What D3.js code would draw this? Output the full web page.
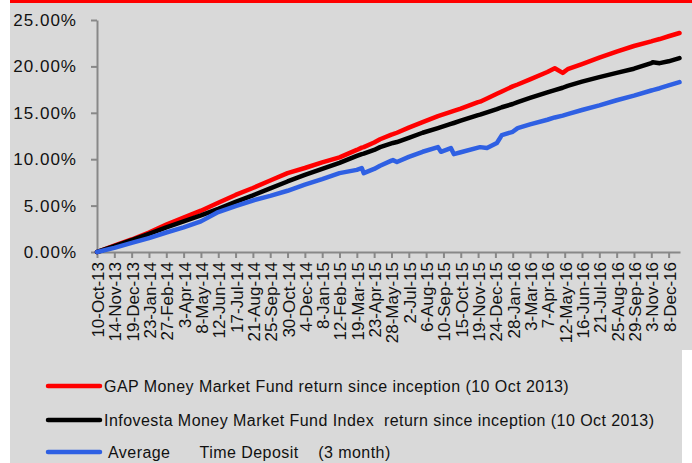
<!DOCTYPE html>
<html>
<head>
<meta charset="utf-8">
<title>Money market fund returns</title>
<script src="https://cdn.jsdelivr.net/npm/d3@7"></script>
<style>
  body { margin: 0; background: #fff; }
  text { font-family: "Liberation Sans", Arial, sans-serif; fill: #111; }
</style>
</head>
<body>
<script>
const dates = [
  "2013-10-10","2013-11-14","2013-12-19","2014-01-23","2014-02-27","2014-04-03",
  "2014-05-08","2014-06-12","2014-07-17","2014-08-21","2014-09-25","2014-10-30",
  "2014-12-04","2015-01-08","2015-02-12","2015-03-19","2015-03-29","2015-04-02",
  "2015-04-23","2015-05-05","2015-05-28","2015-05-31","2015-06-08","2015-07-02",
  "2015-07-30","2015-08-30","2015-09-05","2015-09-25","2015-10-01","2015-10-15",
  "2015-11-19","2015-11-23","2015-12-07","2015-12-27","2016-01-06","2016-01-28",
  "2016-02-07","2016-03-03","2016-04-07","2016-04-22","2016-05-08","2016-05-18",
  "2016-06-16","2016-07-21","2016-08-25","2016-09-29","2016-11-03","2016-11-06",
  "2016-11-20","2016-12-08","2016-12-30"
];

// return since inception, in %
const gapFund = [
  0.00, 0.70, 1.35, 2.10, 2.95, 3.70, 4.45, 5.30, 6.15, 6.90, 7.70, 8.50,
  9.05, 9.65, 10.20, 11.00, 11.25, 11.30, 11.80, 12.15, 12.65, 12.70, 12.85, 13.40,
  14.00, 14.65, 14.75, 15.10, 15.20, 15.45, 16.15, 16.20, 16.55, 17.05, 17.30, 17.85,
  18.05, 18.60, 19.40, 19.80, 19.30, 19.70, 20.25, 20.95, 21.60, 22.20, 22.70, 22.75,
  22.95, 23.25, 23.60
];
const infovesta = [
  0.00, 0.62, 1.28, 1.95, 2.65, 3.30, 3.95, 4.65, 5.40, 6.10, 6.85, 7.60,
  8.30, 8.95, 9.60, 10.35, 10.55, 10.60, 11.00, 11.30, 11.70, 11.75, 11.85, 12.30,
  12.85, 13.35, 13.45, 13.80, 13.90, 14.15, 14.75, 14.80, 15.05, 15.40, 15.60, 15.95,
  16.15, 16.60, 17.20, 17.45, 17.70, 17.90, 18.35, 18.85, 19.30, 19.75, 20.35, 20.45,
  20.35, 20.55, 20.90
];
const timeDeposit = [
  0.00, 0.45, 0.98, 1.50, 2.10, 2.65, 3.30, 4.30, 4.95, 5.55, 6.05, 6.60,
  7.25, 7.85, 8.50, 8.85, 9.05, 8.50, 8.95, 9.30, 9.85, 9.90, 9.70, 10.25,
  10.80, 11.30, 10.80, 11.20, 10.55, 10.75, 11.25, 11.30, 11.20, 11.75, 12.60, 12.95,
  13.35, 13.75, 14.25, 14.50, 14.70, 14.85, 15.30, 15.80, 16.35, 16.85, 17.40, 17.45,
  17.65, 17.95, 18.30
];

// x axis labels, every 35 days
const tickLabels = [
  "2013-10-10","2013-11-14","2013-12-19","2014-01-23","2014-02-27","2014-04-03",
  "2014-05-08","2014-06-12","2014-07-17","2014-08-21","2014-09-25","2014-10-30",
  "2014-12-04","2015-01-08","2015-02-12","2015-03-19","2015-04-23","2015-05-28",
  "2015-07-02","2015-08-06","2015-09-10","2015-10-15","2015-11-19","2015-12-24",
  "2016-01-28","2016-03-03","2016-04-07","2016-05-12","2016-06-16","2016-07-21",
  "2016-08-25","2016-09-29","2016-11-03","2016-12-08"
];
const yTicks = [0, 5, 10, 15, 20, 25];

const seriesNames = [
  "GAP Money Market Fund return since inception (10 Oct 2013)",
  "Infovesta Money Market Fund Index  return since inception (10 Oct 2013)",
  " Average      Time Deposit    (3 month)"
];
const seriesColors = ["#ff0000", "#000000", "#2f60e3"];

const w = 692, h = 463;
const parse = d3.timeParse("%Y-%m-%d");

const svg = d3.select("body").append("svg")
  .attr("width", w)
  .attr("height", h);

// backgrounds
svg.append("rect").attr("x", 10).attr("y", 0).attr("width", 682).attr("height", 350).attr("fill", "#d9d9d9");
svg.append("rect").attr("x", 10).attr("y", 350).attr("width", 672).attr("height", 113).attr("fill", "#d9d9d9");
svg.append("rect").attr("x", 10).attr("y", 0).attr("width", 682).attr("height", 3).attr("fill", "#ff0000");

const x = d3.scaleTime()
  .domain([parse("2013-10-10"), parse("2016-12-31")])
  .range([97, 680]);
const y = d3.scaleLinear()
  .domain([0, 25])
  .range([252, 20]);

// y axis
const yAxis = svg.append("g")
  .attr("transform", "translate(97,0)")
  .call(d3.axisLeft(y).tickValues(yTicks).tickSize(6).tickSizeOuter(0).tickPadding(14)
    .tickFormat(d => d.toFixed(2) + "%"));
yAxis.selectAll("text").style("font-size", "17px").style("letter-spacing", "1px");

// x axis
const xAxis = svg.append("g")
  .attr("transform", "translate(0,252)")
  .call(d3.axisBottom(x).tickValues(tickLabels.map(parse)).tickSize(6).tickSizeOuter(0)
    .tickFormat(d3.timeFormat("%-d-%b-%y")));
xAxis.selectAll("text")
  .style("font-size", "17px")
  .attr("text-anchor", "end")
  .attr("transform", "rotate(-90)")
  .attr("x", -10)
  .attr("y", 0)
  .attr("dy", "0.38em");

svg.selectAll(".domain, .tick line")
  .attr("stroke", "#888")
  .attr("stroke-width", 2);
svg.selectAll(".tick text").attr("fill", "#111");

// lines
const allSeries = [gapFund, infovesta, timeDeposit];
const line = d3.line()
  .x((d, i) => x(parse(dates[i])))
  .y(d => y(d));

svg.selectAll("path.series")
  .data(allSeries)
  .enter()
  .append("path")
  .attr("class", "series")
  .attr("d", line)
  .attr("fill", "none")
  .attr("stroke", (d, i) => seriesColors[i])
  .attr("stroke-width", 4.5)
  .attr("stroke-linejoin", "round")
  .attr("stroke-linecap", "round");

// legend
const legendY = [386, 420, 452];
const legend = svg.selectAll("g.legend")
  .data(seriesNames)
  .enter()
  .append("g")
  .attr("class", "legend")
  .attr("transform", (d, i) => "translate(0," + legendY[i] + ")");
legend.append("line")
  .attr("x1", 48).attr("x2", 100)
  .attr("stroke", (d, i) => seriesColors[i])
  .attr("stroke-width", 4.5)
  .attr("stroke-linecap", "round");
legend.append("text")
  .attr("x", 104)
  .attr("y", 6)
  .style("font-size", "16px")
  .style("letter-spacing", "0.45px")
  .style("white-space", "pre")
  .text(d => d);
</script>
</body>
</html>
